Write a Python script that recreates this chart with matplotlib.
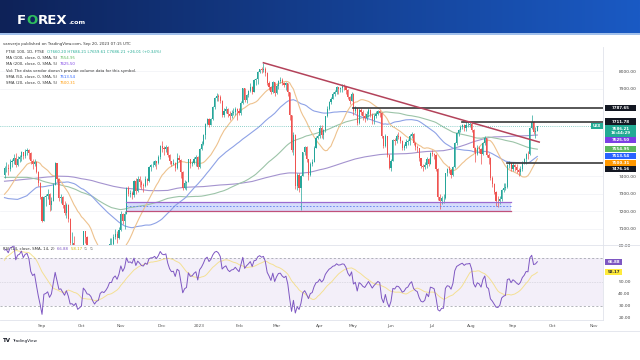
import numpy as np
import pandas as pd
import matplotlib
matplotlib.use("Agg")
import matplotlib.pyplot as plt
from matplotlib.patches import Rectangle

# ---- FTSE 100 daily closes, 3 Aug 2022 -> 20 Sep 2023 ----
close_aug22 = [7445, 7448, 7440, 7482, 7488, 7507, 7466, 7501, 7509, 7536, 7516, 7542, 7550, 7534, 7488, 7471, 7479, 7427, 7361, 7284]
close_sep22 = [7148, 7281, 7287, 7300, 7237, 7262, 7351, 7473, 7385, 7277, 7282, 7237, 7193, 7237, 7159, 7019, 7021, 6985, 7005, 6881, 6894]
close_oct22 = [6909, 7086, 7052, 6997, 6991, 6959, 6885, 6826, 6850, 6858, 6920, 6936, 6925, 6944, 6970, 7013, 7013, 7056, 7073, 7047, 7094]
close_nov22 = [7186, 7144, 7188, 7335, 7299, 7306, 7296, 7375, 7318, 7385, 7369, 7351, 7347, 7385, 7376, 7452, 7465, 7467, 7486, 7474, 7512, 7573]
close_dec22 = [7559, 7556, 7567, 7521, 7489, 7472, 7476, 7446, 7503, 7495, 7427, 7332, 7361, 7370, 7497, 7469, 7473, 7497, 7512, 7452]
close_jan23 = [7554, 7585, 7633, 7699, 7724, 7695, 7725, 7794, 7844, 7860, 7851, 7830, 7747, 7770, 7784, 7757, 7745, 7761, 7765, 7785, 7772]
close_feb23 = [7761, 7820, 7902, 7836, 7864, 7885, 7911, 7882, 7947, 7953, 7997, 8012, 8004, 8014, 7990, 7930, 7907, 7878, 7935, 7876]
close_mar23 = [7915, 7944, 7947, 7929, 7919, 7929, 7879, 7748, 7548, 7637, 7344, 7410, 7335, 7403, 7536, 7566, 7499, 7405, 7471, 7484, 7564, 7620, 7632]
close_apr23 = [7673, 7635, 7663, 7742, 7785, 7824, 7843, 7871, 7879, 7909, 7898, 7902, 7914, 7912, 7891, 7852, 7831, 7870]
close_may23 = [7773, 7788, 7703, 7778, 7764, 7741, 7730, 7754, 7778, 7751, 7723, 7742, 7756, 7770, 7762, 7627, 7570, 7627, 7522, 7446]
close_jun23 = [7490, 7607, 7600, 7628, 7624, 7599, 7562, 7570, 7594, 7602, 7628, 7643, 7588, 7569, 7559, 7502, 7461, 7453, 7462, 7500, 7472, 7532]
close_jul23 = [7527, 7519, 7442, 7280, 7257, 7274, 7274, 7416, 7440, 7434, 7406, 7453, 7588, 7646, 7663, 7679, 7691, 7676, 7693, 7694, 7699]
close_aug23 = [7666, 7561, 7529, 7564, 7554, 7527, 7587, 7618, 7524, 7507, 7389, 7357, 7310, 7262, 7257, 7271, 7320, 7333, 7338, 7465, 7473, 7439]
close_sep23 = [7465, 7453, 7437, 7426, 7442, 7478, 7496, 7527, 7525, 7673, 7711, 7652, 7660, 7686.21]

high_2022 = [7460, 7480, 7470, 7500, 7500, 7525, 7535, 7515, 7520, 7545, 7540, 7555, 7560, 7555, 7540, 7500, 7500, 7490, 7430, 7370,
             7290, 7290, 7300, 7330, 7305, 7280, 7360, 7480, 7475, 7390, 7300, 7290, 7260, 7250, 7240, 7165, 7080, 7060, 7010, 7010, 6950,
             6930, 7090, 7090, 7060, 7010, 7000, 6965, 6890, 6860, 6960, 6935, 6990, 6950, 6960, 6980, 7050, 7050, 7070, 7100, 7090, 7110,
             7200, 7190, 7200, 7340, 7345, 7320, 7315, 7380, 7390, 7400, 7400, 7380, 7360, 7400, 7390, 7460, 7470, 7485, 7495, 7490, 7520, 7580,
             7600, 7570, 7580, 7570, 7525, 7490, 7500, 7480, 7530, 7520, 7500, 7430, 7380, 7375, 7500, 7500, 7490, 7510, 7520, 7515]
low_2022 = [7390, 7425, 7410, 7430, 7455, 7470, 7455, 7460, 7480, 7490, 7500, 7505, 7520, 7500, 7470, 7440, 7460, 7420, 7345, 7270,
            7140, 7145, 7230, 7270, 7200, 7210, 7260, 7350, 7370, 7260, 7250, 7220, 7180, 7160, 7140, 7000, 6940, 6960, 6820, 6870, 6860,
            6850, 6905, 7020, 6980, 6960, 6930, 6860, 6800, 6710, 6840, 6850, 6900, 6900, 6900, 6880, 6960, 6990, 7000, 7040, 7020, 7040,
            7090, 7130, 7100, 7185, 7290, 7280, 7270, 7280, 7300, 7310, 7340, 7330, 7310, 7340, 7350, 7370, 7430, 7455, 7460, 7440, 7470, 7500,
            7540, 7520, 7540, 7510, 7470, 7460, 7465, 7430, 7440, 7480, 7390, 7320, 7330, 7320, 7365, 7450, 7460, 7470, 7460, 7440]
high_2023 = [7560, 7600, 7640, 7705, 7730, 7730, 7735, 7800, 7850, 7875, 7870, 7865, 7835, 7790, 7800, 7790, 7770, 7775, 7790, 7795, 7790,
             7790, 7830, 7905, 7905, 7870, 7890, 7930, 7915, 7955, 7960, 8000, 8014, 8020, 8047, 8020, 7995, 7945, 7915, 7945, 7940,
             7925, 7950, 7965, 7960, 7940, 7935, 7930, 7880, 7750, 7650, 7640, 7420, 7420, 7410, 7540, 7575, 7570, 7500, 7480, 7500, 7570, 7630, 7640,
             7690, 7690, 7670, 7745, 7800, 7830, 7850, 7880, 7890, 7915, 7910, 7910, 7925, 7925, 7915, 7895, 7860, 7880,
             7875, 7800, 7790, 7790, 7790, 7775, 7760, 7770, 7790, 7785, 7760, 7755, 7770, 7780, 7780, 7765, 7630, 7640, 7630, 7525,
             7500, 7610, 7620, 7640, 7650, 7630, 7605, 7585, 7610, 7615, 7640, 7650, 7645, 7595, 7580, 7560, 7505, 7470, 7480, 7510, 7505, 7540,
             7550, 7530, 7525, 7445, 7300, 7290, 7300, 7420, 7450, 7460, 7440, 7460, 7595, 7650, 7670, 7690, 7700, 7700, 7710, 7711, 7712,
             7710, 7670, 7565, 7580, 7570, 7560, 7595, 7630, 7620, 7530, 7510, 7400, 7360, 7315, 7290, 7290, 7330, 7360, 7360, 7470, 7490, 7480,
             7480, 7470, 7470, 7450, 7460, 7490, 7505, 7535, 7545, 7680, 7747, 7715, 7680, 7686]
low_2023 = [7450, 7550, 7580, 7610, 7690, 7680, 7690, 7720, 7785, 7830, 7830, 7815, 7740, 7740, 7760, 7740, 7720, 7735, 7750, 7750, 7720,
            7750, 7750, 7810, 7825, 7820, 7850, 7880, 7870, 7880, 7920, 7925, 7990, 7990, 7995, 7970, 7920, 7890, 7870, 7875, 7860,
            7870, 7900, 7930, 7920, 7910, 7890, 7860, 7720, 7540, 7520, 7330, 7320, 7310, 7206, 7400, 7520, 7480, 7380, 7400, 7460, 7480, 7560, 7610,
            7620, 7620, 7610, 7650, 7740, 7780, 7810, 7840, 7860, 7870, 7870, 7880, 7880, 7890, 7870, 7840, 7810, 7830,
            7750, 7760, 7690, 7700, 7750, 7720, 7710, 7720, 7740, 7740, 7700, 7700, 7730, 7750, 7740, 7620, 7560, 7565, 7510, 7440,
            7430, 7485, 7580, 7590, 7610, 7590, 7550, 7550, 7560, 7580, 7580, 7620, 7580, 7550, 7540, 7490, 7450, 7430, 7440, 7450, 7460, 7470,
            7515, 7500, 7430, 7265, 7215, 7240, 7250, 7270, 7400, 7420, 7390, 7400, 7450, 7580, 7630, 7650, 7670, 7660, 7660, 7680, 7680,
            7650, 7540, 7480, 7520, 7530, 7470, 7520, 7580, 7510, 7470, 7380, 7340, 7300, 7230, 7225, 7240, 7260, 7310, 7320, 7335, 7450, 7430,
            7430, 7430, 7420, 7400, 7410, 7430, 7470, 7470, 7500, 7520, 7670, 7640, 7620, 7659.61]
first_open = 7409

# weekly closes Oct 2021 - Jul 2022 plus 1-2 Aug 2022, only used to warm up the averages
warmup_weekly = [7095, 7234, 7205, 7238, 7304, 7348, 7224, 7044, 7122, 7291, 7270, 7373, 7385,
                 7485, 7542, 7494, 7466, 7516, 7661, 7513, 7489, 6987, 7156, 7405, 7483,
                 7538, 7669, 7616, 7521, 7545, 7388, 7418, 7390, 7585, 7533, 7318, 7016, 7208,
                 7169, 7196, 7159, 7276, 7423]
warmup_days = [7413, 7409]

# drawn levels / annotations
levels = [7787.65, 7711.78, 7476.16]
level_start = ["2023-05-02", "2023-07-25", "2023-08-29"]
trend_dates = ["2023-02-20", "2023-09-21"]
trend_prices = [8047, 7595]
zone_dates = ["2022-11-04", "2023-08-31"]
zone_prices = [7205, 7255]

ma_periods = [200, 100, 50, 20]
ma_colors = ["#a493cf", "#9cc4a8", "#8ea2e6", "#eec28e"]
ma_label_vals = ["7625.50", "7554.95", "7513.54", "7500.31"]
ma_label_colors = ["#7b3fe4", "#5cb85c", "#2962ff", "#ff9800"]
rsi_last, rsi_sma_last = "66.88", "58.17"

months = ["Sep", "Oct", "Nov", "Dec", "2023", "Feb", "Mar", "Apr", "May", "Jun", "Jul", "Aug", "Sep", "Oct", "Nov"]

close = np.array(close_aug22 + close_sep22 + close_oct22 + close_nov22 + close_dec22 + close_jan23 + close_feb23
                 + close_mar23 + close_apr23 + close_may23 + close_jun23 + close_jul23 + close_aug23 + close_sep23, float)
high = np.array(high_2022 + high_2023, float)
low = np.array(low_2022 + low_2023, float)
n = len(close)
opn = np.concatenate([[first_open], close[:-1]])
high = np.maximum(high, np.maximum(opn, close))
low = np.minimum(low, np.minimum(opn, close))

holidays = pd.to_datetime(["2022-08-29", "2022-09-19", "2022-12-26", "2022-12-27", "2023-01-02", "2023-04-07",
                           "2023-04-10", "2023-05-01", "2023-05-08", "2023-05-29", "2023-08-28"])
days = pd.bdate_range("2022-08-03", "2023-11-30")
days = days[~days.isin(holidays)]
pos = {d: i for i, d in enumerate(days)}
def di(s):
    return pos[pd.Timestamp(s)]

full = pd.Series(np.concatenate([np.repeat(warmup_weekly, 5), warmup_days, close]))
mas = [full.rolling(p).mean().values[-n:] for p in ma_periods]
delta = full.diff()
up = delta.clip(lower=0).ewm(alpha=1 / 14, adjust=False).mean()
dn = (-delta.clip(upper=0)).ewm(alpha=1 / 14, adjust=False).mean()
rsi_full = 100 - 100 / (1 + up / dn)
rsi = rsi_full.values[-n:]
rsi_sma = rsi_full.rolling(14).mean().values[-n:]

# ---- figure ----
W, H = 640, 360
fig = plt.figure(figsize=(6.4, 3.6), dpi=100)
fig.patch.set_facecolor("white")
def fx(px): return px / W
def fy(py): return 1 - py / H

fig.canvas.draw()
ren = fig.canvas.get_renderer()

# header banner
axh = fig.add_axes([0, fy(33), 1, 33 / H])
grad = np.linspace(0, 1, 256)
c0, c1 = np.array([14, 34, 88]) / 255, np.array([26, 90, 196]) / 255
img = (c0[None, :] * (1 - grad[:, None]) + c1[None, :] * grad[:, None])[None, :, :]
axh.imshow(img, aspect="auto", extent=[0, 1, 0, 1])
axh.axis("off")
fig.add_artist(plt.Line2D([0, 1], [fy(33.5), fy(33.5)], color="#8fb4e8", lw=1.2))
xcur = fx(17)
for part, col in [("F", "white"), ("O", "#2fbf5f"), ("REX", "white")]:
    t = fig.text(xcur, fy(20), part, color=col, fontsize=9.5, fontweight="heavy", va="center")
    xcur = (t.get_window_extent(ren).x1 + 0.2) / W
fig.text(xcur + 0.5 / W, fy(22), ".com", color="white", fontsize=4.6, fontweight="bold", va="center")

fig.text(fx(3), fy(44), "vanverjo published on TradingView.com, Sep 20, 2023 07:15 UTC", fontsize=2.8, color="#333333", va="center")

# price pane
ax = fig.add_axes([0, fy(245), fx(603), (245 - 47) / H])
ax.set_xlim(-2.4, 319)
ax.set_ylim(7008.5, 8136.8)
idx = np.arange(n)
upc, dnc = "#26a69a", "#ef5350"
cols = np.where(close >= opn, upc, dnc)
ax.vlines(idx, low, high, colors=cols, lw=0.5, zorder=3)
ax.bar(idx, np.maximum(np.abs(close - opn), 2), bottom=np.minimum(opn, close), width=0.6, color=cols, lw=0, zorder=3)
for m, c in zip(mas, ma_colors):
    ax.plot(idx, m, color=c, lw=0.8, zorder=2)

for lv, s in zip(levels, level_start):
    ax.plot([di(s), 319], [lv, lv], color="#3a3a3a", lw=1.2, zorder=4)
ax.plot([di(d) for d in trend_dates], trend_prices, color="#b3425a", lw=1.1, zorder=4)
z0, z1 = di(zone_dates[0]), di(zone_dates[1])
ax.add_patch(Rectangle((z0, zone_prices[0]), z1 - z0, zone_prices[1] - zone_prices[0],
                       facecolor="#d6dcfb", edgecolor="none", zorder=1))
ax.plot([z0, z1], [zone_prices[1]] * 2, color="#9c6ad0", lw=0.9, zorder=4)
ax.plot([z0, z1], [zone_prices[0]] * 2, color="#c0507a", lw=0.9, zorder=4)
ax.plot([z0, z1], [np.mean(zone_prices)] * 2, color="#5b7cf0", lw=0.6, ls=(0, (2, 2)), zorder=4)
ax.axhline(close[-1], color=upc, lw=0.5, ls=(0, (1, 2)), zorder=2)

ax.set_yticks([7100, 7200, 7300, 7400, 7900, 8000])
ax.set_yticklabels(["7100.00", "7200.00", "7300.00", "7400.00", "7900.00", "8000.00"])
ax.yaxis.tick_right()
ax.tick_params(axis="y", length=0, pad=11, labelsize=3.2, labelcolor="#444444")
ax.tick_params(axis="x", length=0, labelbottom=False)
ax.grid(axis="y", color="#f0f2f6", lw=0.5)
for s in ["top", "left", "bottom"]:
    ax.spines[s].set_visible(False)
ax.spines["right"].set_color("#e0e3eb")
ax.spines["right"].set_linewidth(0.6)

# legend lines
leg = [("FTSE 100, 1D, FTSE  ", "O7660.20 H7686.21 L7659.61 C7686.21 +26.01 (+0.34%)", "#22ab94"),
       ("MA (100, close, 0, SMA, 5)  ", "7554.95", "#5cb85c"),
       ("MA (200, close, 0, SMA, 5)  ", "7625.50", "#7b3fe4"),
       ("Vol: The data vendor doesn't provide volume data for this symbol.", "", "#333333"),
       ("SMA (50, close, 0, SMA, 5)  ", "7513.54", "#2962ff"),
       ("SMA (20, close, 0, SMA, 5)  ", "7500.31", "#ff9800")]
for k, (a, b, c) in enumerate(leg):
    yy = fy(52 + k * 6.2)
    t = fig.text(fx(6), yy, a, fontsize=2.8, color="#333333", va="center")
    if b:
        bb = t.get_window_extent(ren)
        fig.text(bb.x1 / W, yy, b, fontsize=2.8, color=c, va="center")

# right-hand price labels, stacked so they do not overlap
def to_py(a, v):
    return H - a.transData.transform((0, v))[1]

labels = [(levels[0], "7787.65", "#131722", "white", 1), (levels[1], "7711.78", "#131722", "white", 1),
          (close[-1], "7686.21\n16:44:29", "#22ab94", "white", 2)]
labels += [(float(v), v, c, "white", 1) for v, c in zip(ma_label_vals, ma_label_colors)]
labels += [(levels[2], "7476.16", "#131722", "white", 1)]
labels.sort(key=lambda r: -r[0])
prev_bottom = 0
for v, txt, bg, fg, nl in labels:
    y = to_py(ax, v)
    top = max(y - 3.1, prev_bottom)
    hgt = 6.2 * nl - (0.8 if nl > 1 else 0)
    fig.add_artist(Rectangle((fx(605), fy(top + hgt)), fx(31), hgt / H, facecolor=bg, edgecolor="none"))
    fig.text(fx(620.5), fy(top + hgt / 2), txt, fontsize=2.9, color=fg, ha="center", va="center",
             fontweight="bold", linespacing=1.1)
    prev_bottom = top + hgt + 0.3
fig.add_artist(Rectangle((fx(591), fy(129)), fx(12), 6 / H, facecolor="#22ab94", edgecolor="none"))
fig.text(fx(597), fy(126), "UKX", fontsize=2.5, color="white", ha="center", va="center", fontweight="bold")

# RSI pane
ax2 = fig.add_axes([0, fy(320), fx(603), 75 / H])
ax2.set_xlim(-2.4, 319)
ax2.set_ylim(18.3, 80.8)
ax2.axhspan(30, 70, color="#7e57c2", alpha=0.09, lw=0)
ax2.axhline(70, color="#9598a1", lw=0.5, ls=(0, (3, 3)))
ax2.axhline(50, color="#9598a1", lw=0.4, ls=(0, (1, 2)), alpha=0.7)
ax2.axhline(30, color="#9598a1", lw=0.5, ls=(0, (3, 3)))
ax2.plot(idx, rsi_sma, color="#f3dc7a", lw=0.7, alpha=0.8)
ax2.plot(idx, rsi, color="#7e57c2", lw=0.7)
ax2.set_yticks([20, 30, 40, 50, 80])
ax2.set_yticklabels(["20.00", "30.00", "40.00", "50.00", "80.00"])
ax2.yaxis.tick_right()
ax2.tick_params(axis="y", length=0, pad=11, labelsize=3.2, labelcolor="#444444")
mstart = [i for i in range(1, len(days)) if days[i].month != days[i - 1].month]
ax2.set_xticks(mstart[:len(months)])
ax2.set_xticklabels(months)
ax2.tick_params(axis="x", length=0, pad=3, labelsize=3.2, labelcolor="#555555")
for s in ["top", "left"]:
    ax2.spines[s].set_visible(False)
ax2.spines["right"].set_color("#e0e3eb")
ax2.spines["right"].set_linewidth(0.6)
ax2.spines["bottom"].set_color("#e0e3eb")
ax2.spines["bottom"].set_linewidth(0.6)
fig.add_artist(plt.Line2D([0, fx(640)], [fy(245), fy(245)], color="#e0e3eb", lw=0.6))
fig.add_artist(plt.Line2D([0, fx(640)], [fy(331), fy(331)], color="#e0e3eb", lw=0.6))

for v, bg, fg in [(float(rsi_last), "#7e57c2", "white"), (float(rsi_sma_last), "#ffeb3b", "#333333")]:
    y = to_py(ax2, v)
    fig.add_artist(Rectangle((fx(605), fy(y + 3.1)), fx(17), 6.2 / H, facecolor=bg, edgecolor="none"))
    fig.text(fx(613.5), fy(y), f"{v:.2f}", fontsize=2.9, color=fg, ha="center", va="center", fontweight="bold")

t = fig.text(fx(3), fy(248.5), "RSI (14, close, SMA, 14, 2)  ", fontsize=2.8, color="#333333", va="center")
bb = t.get_window_extent(ren)
t2 = fig.text(bb.x1 / W, fy(248.5), rsi_last + "  ", fontsize=2.8, color="#7e57c2", va="center")
bb = t2.get_window_extent(ren)
t3 = fig.text(bb.x1 / W, fy(248.5), rsi_sma_last + "  ", fontsize=2.8, color="#d4b400", va="center")
bb = t3.get_window_extent(ren)
fig.text(bb.x1 / W, fy(248.5), "\u2205  \u2205", fontsize=2.8, color="#777777", va="center")

fig.text(fx(3), fy(341), "TV", fontsize=4, fontweight="heavy", color="#131722", va="center")
fig.text(fx(12), fy(341), "TradingView", fontsize=3, color="#131722", va="center")

fig.savefig("out.png", dpi=100)
